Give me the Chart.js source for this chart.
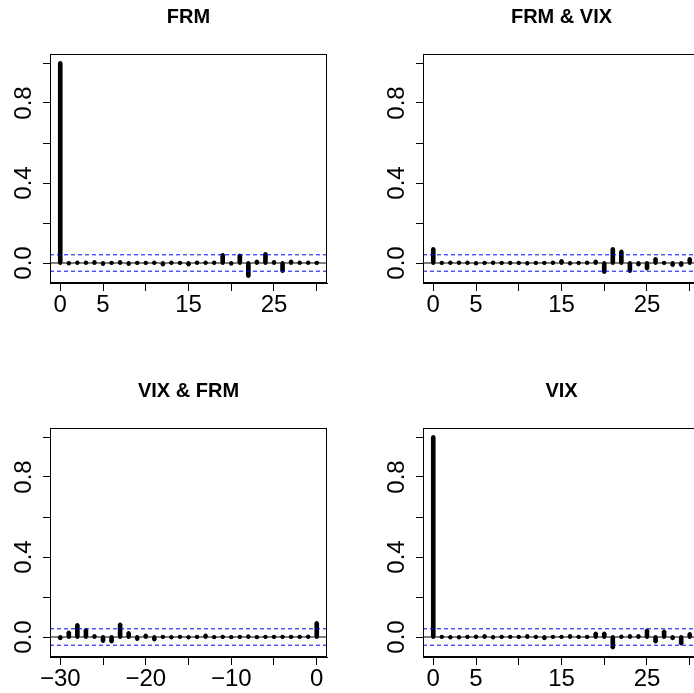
<!DOCTYPE html>
<html>
<head>
<meta charset="utf-8">
<script src="https://cdn.jsdelivr.net/npm/chart.js@4/dist/chart.umd.min.js"></script>
<style>
html, body { margin:0; padding:0; overflow:hidden; background:#fff; width:694px; height:693px; }
canvas { position:absolute; }
</style>
</head>
<body>
<canvas id="c1" width="347" height="347" style="left:0px;top:0px"></canvas>
<canvas id="c2" width="347" height="347" style="left:373px;top:0px"></canvas>
<canvas id="c3" width="347" height="347" style="left:0px;top:374px"></canvas>
<canvas id="c4" width="347" height="347" style="left:373px;top:374px"></canvas>
<script>
// ---------- data ----------
const lagsPos = [0,1,2,3,4,5,6,7,8,9,10,11,12,13,14,15,16,17,18,19,20,21,22,23,24,25,26,27,28,29,30];
const lagsNeg = [-30,-29,-28,-27,-26,-25,-24,-23,-22,-21,-20,-19,-18,-17,-16,-15,-14,-13,-12,-11,-10,-9,-8,-7,-6,-5,-4,-3,-2,-1,0];

const acfFRM = [1, -0.003, 0.002, 0.002, 0.005, -0.005, 0.001, 0.005, -0.005, 0.001, 0.001, 0.003, -0.008, 0.003, 0.001, -0.008, 0.003, 0.003, 0.003, 0.040, -0.004, 0.037, -0.065, 0.008, 0.045, 0.005, -0.040, 0.008, 0.003, 0.003, 0.001];
const ccfFRMVIX = [0.070, 0.001, 0.003, 0.003, 0.003, -0.003, 0.001, 0.003, 0.001, 0.001, 0.001, -0.003, 0.001, 0.001, 0.003, 0.010, -0.003, 0.001, 0.003, 0.008, -0.045, 0.070, 0.057, -0.040, -0.008, -0.027, 0.020, 0.001, -0.010, -0.010, 0.020];
const ccfVIXFRM = [-0.006, 0.023, 0.060, 0.035, 0.005, -0.020, -0.023, 0.063, 0.020, -0.010, 0.008, -0.012, 0.001, -0.002, 0.001, -0.003, 0.001, 0.007, -0.001, 0.001, -0.001, 0.001, 0.004, -0.001, 0.001, 0.001, 0.001, 0.001, 0.001, 0.003, 0.070];
const acfVIX = [1, 0.001, -0.003, -0.003, 0.001, 0.003, 0.005, -0.003, 0.001, 0.001, 0.001, 0.005, 0.001, -0.006, 0.001, 0.001, 0.005, 0.001, 0.001, 0.018, 0.018, -0.053, 0.003, 0.005, 0.005, 0.032, -0.023, 0.028, -0.006, -0.033, 0.015];

const ciBound = 0.041;
const yTicks = [0, 0.2, 0.4, 0.6, 0.8, 1.0];
const yTickLabels = ['0.0', '', '0.4', '', '0.8', ''];
const xTicksPos = [0, 5, 10, 15, 20, 25, 30];
const xTickLabelsPos = ['0', '5', '', '15', '', '25', ''];
const xTicksNeg = [-30, -25, -20, -15, -10, -5, 0];
const xTickLabelsNeg = ['\u221230', '', '\u221220', '', '\u221210', '', '0'];
const titles = ['FRM', 'FRM & VIX', 'VIX & FRM', 'VIX'];

// ---------- drawing ----------
const FONT = '"Liberation Sans", Arial, Helvetica, sans-serif';

const boxAndYLabels = {
  id: 'boxAndYLabels',
  afterDraw(chart) {
    const ctx = chart.ctx, a = chart.chartArea, ys = chart.scales.y;
    ctx.save();
    ctx.strokeStyle = '#000';
    ctx.lineWidth = 1;
    ctx.strokeRect(Math.round(a.left) + 0.5, Math.round(a.top) + 0.5,
                   Math.round(a.right - a.left) - 1, Math.round(a.bottom - a.top) - 1);
    ctx.fillStyle = '#000';
    ctx.font = '24px ' + FONT;
    ctx.textAlign = 'center';
    ctx.textBaseline = 'middle';
    yTicks.forEach((v, i) => {
      if (!yTickLabels[i]) return;
      const y = ys.getPixelForValue(v);
      ctx.save();
      ctx.translate(a.left - 26, y);
      ctx.rotate(-Math.PI / 2);
      ctx.fillText(yTickLabels[i], 0, 0);
      ctx.restore();
    });
    ctx.restore();
  }
};

function makePanel(id, title, lags, vals, xTicks, xTickLabels) {
  const lo = Math.min(...lags), hi = Math.max(...lags), span = hi - lo;
  const xmin = lo - 0.04 * span, xmax = hi + 0.04 * span;
  const pts = lags.map((l, i) => ({ x: l, y: vals[i] }));
  const base = lags.map(l => ({ x: l, y: 0 }));
  const hline = (v) => [{ x: xmin, y: v }, { x: xmax, y: v }];
  new Chart(document.getElementById(id), {
    type: 'bar',
    data: {
      datasets: [
        { type: 'bar', data: pts, backgroundColor: '#000', barThickness: 4, order: 5 },
        { type: 'line', data: pts, showLine: false, pointRadius: 2, pointBackgroundColor: '#000', pointBorderWidth: 0, order: 4 },
        { type: 'line', data: base, showLine: false, pointRadius: 2, pointBackgroundColor: '#000', pointBorderWidth: 0, order: 4 },
        { type: 'line', data: hline(0), borderColor: '#000', borderWidth: 1, pointRadius: 0, order: 2 },
        { type: 'line', data: hline(ciBound), borderColor: '#0000ff', borderWidth: 1, borderDash: [4, 3], pointRadius: 0, order: 1 },
        { type: 'line', data: hline(-ciBound), borderColor: '#0000ff', borderWidth: 1, borderDash: [4, 3], pointRadius: 0, order: 1 }
      ]
    },
    options: {
      responsive: false,
      animation: false,
      devicePixelRatio: 1,
      events: [],
      layout: { padding: { left: 0, right: 20, top: 0, bottom: 0 } },
      plugins: {
        legend: { display: false },
        tooltip: { enabled: false },
        title: {
          display: true, text: title, fullSize: false, color: '#000',
          font: { family: FONT, size: 20, weight: 'bold', lineHeight: 1.2 },
          padding: { top: 5, bottom: 25 }
        }
      },
      scales: {
        x: {
          type: 'linear', min: xmin, max: xmax, offset: false,
          grid: { display: true, drawOnChartArea: false, drawTicks: true, tickLength: 8, color: '#000', offset: false },
          border: { display: true, color: '#000', width: 1 },
          ticks: {
            autoSkip: false, maxRotation: 0, minRotation: 0, padding: 0, color: '#000',
            font: { family: FONT, size: 24 },
            callback: (v) => { const k = xTicks.indexOf(v); return k >= 0 ? xTickLabels[k] : ''; }
          },
          afterBuildTicks: (s) => { s.ticks = xTicks.map(v => ({ value: v })); },
          afterFit: (s) => { s.height = 64; }
        },
        y: {
          type: 'linear', min: -0.1, max: 1.045,
          grid: { display: true, drawOnChartArea: false, drawTicks: true, tickLength: 7, color: '#000' },
          border: { display: true, color: '#000', width: 1 },
          ticks: { display: false },
          afterBuildTicks: (s) => { s.ticks = yTicks.map(v => ({ value: v })); },
          afterFit: (s) => { s.width = 50; }
        }
      }
    },
    plugins: [boxAndYLabels]
  });
}

makePanel('c1', titles[0], lagsPos, acfFRM, xTicksPos, xTickLabelsPos);
makePanel('c2', titles[1], lagsPos, ccfFRMVIX, xTicksPos, xTickLabelsPos);
makePanel('c3', titles[2], lagsNeg, ccfVIXFRM, xTicksNeg, xTickLabelsNeg);
makePanel('c4', titles[3], lagsPos, acfVIX, xTicksPos, xTickLabelsPos);
</script>
</body>
</html>
